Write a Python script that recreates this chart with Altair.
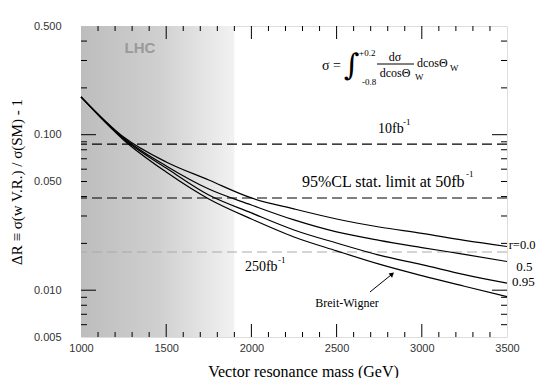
import altair as alt
import pandas as pd

# ---------------- data ----------------
mass = [1000, 1250, 1500, 1750, 2000, 2250, 2500, 2750, 3000, 3250, 3500]
r00 = [0.175, 0.0966, 0.0668, 0.0511, 0.0392, 0.0333, 0.0287, 0.0255, 0.0232, 0.0209, 0.0191]
r05 = [0.175, 0.0953, 0.0629, 0.0447, 0.0353, 0.0283, 0.0237, 0.0209, 0.0188, 0.0170, 0.0153]
r095 = [0.175, 0.0938, 0.0610, 0.0409, 0.0314, 0.0244, 0.0201, 0.0168, 0.0146, 0.0126, 0.0111]
breit_wigner = [0.175, 0.0925, 0.0575, 0.0386, 0.0287, 0.0220, 0.0179, 0.0147, 0.0124, 0.0106, 0.0091]

limit_10fb = 0.087
limit_50fb = 0.0392
limit_250fb = 0.0176
lhc_band = [1000, 1900]

x_domain = [1000, 3500]
y_domain = [0.005, 0.5]
x_labels = [1000, 1500, 2000, 2500, 3000, 3500]
x_major = [1500, 2000, 2500, 3000]
x_minor = [m for m in range(1100, 3500, 100) if m % 500]
y_labels = [0.005, 0.01, 0.05, 0.1, 0.5]
y_major = [0.01, 0.1]
y_minor = [0.006, 0.007, 0.008, 0.009, 0.02, 0.03, 0.04, 0.05,
           0.06, 0.07, 0.08, 0.09, 0.2, 0.3, 0.4]

W, H = 426, 311
SERIF = "Liberation Serif"

xs = alt.Scale(domain=x_domain, nice=False, zero=False)
ys = alt.Scale(type="log", domain=y_domain, nice=False)

x_axis = alt.Axis(values=x_labels, format="d", ticks=False, domain=False, grid=False,
                  labelPadding=5, labelFontSize=11, labelFont="Liberation Sans",
                  labelColor="#333333", labelFlush=False,
                  title="Vector resonance mass (GeV)", titleFont=SERIF,
                  titleFontSize=16, titleFontWeight="normal", titlePadding=10,
                  titleColor="black", titleX=222)
y_axis = alt.Axis(values=y_labels, format=".3f", ticks=False, domain=False, grid=False,
                  labelPadding=20, labelFontSize=11, labelFont="Liberation Sans",
                  labelColor="#333333", labelFlush=False,
                  title="ΔR ≡ σ(w V.R.) / σ(SM)  - 1", titleFont=SERIF,
                  titleFontSize=15, titleFontWeight="normal", titlePadding=9,
                  titleColor="black")

def X(field="mass"):
    return alt.X(f"{field}:Q", scale=xs, axis=x_axis, title="Vector resonance mass (GeV)")

def Y(field="value"):
    return alt.Y(f"{field}:Q", scale=ys, axis=y_axis, title="ΔR ≡ σ(w V.R.) / σ(SM)  - 1")

# ---------------- LHC shaded band ----------------
band = alt.Chart(pd.DataFrame({"mass": [lhc_band[0]], "mass2": [lhc_band[1]],
                               "value": [y_domain[0]], "value2": [y_domain[1]]})).mark_rect(
    color=alt.Gradient(gradient="linear",
                       stops=[alt.GradientStop(color="#bdbdbd", offset=0),
                              alt.GradientStop(color="#cfcfcf", offset=0.5),
                              alt.GradientStop(color="#f2f2f2", offset=1)],
                       x1=0, x2=1, y1=0, y2=0)
).encode(x=X(), x2="mass2:Q", y=Y(), y2="value2:Q")

# ---------------- dashed limits ----------------
limits = alt.Chart(pd.DataFrame({"value": [limit_10fb, limit_50fb]})).mark_rule(
    color="black", strokeWidth=1.1, strokeDash=[10, 5]).encode(y=Y())
limit250 = alt.Chart(pd.DataFrame({"value": [limit_250fb]})).mark_rule(
    color="#aaaaaa", strokeWidth=1.1, strokeDash=[10, 5]).encode(y=Y())

# ---------------- curves ----------------
rows = []
for name, vals in [("r=0.0", r00), ("0.5", r05), ("0.95", r095), ("BW", breit_wigner)]:
    for m, v in zip(mass, vals):
        rows.append({"mass": m, "value": v, "series": name})
curves_df = pd.DataFrame(rows)

curves = alt.Chart(curves_df).mark_line(color="black", strokeWidth=1.2, interpolate="monotone").encode(
    x=X(), y=Y(), detail="series:N")

# ---------------- inward ticks ----------------
def xticks(vals, length):
    d = pd.DataFrame({"mass": vals})
    bottom = alt.Chart(d).mark_rule(color="black", strokeWidth=1).encode(
        x=X(), y=alt.value(H), y2=alt.value(H - length))
    top = alt.Chart(d).mark_rule(color="black", strokeWidth=1).encode(
        x=X(), y=alt.value(0), y2=alt.value(length))
    return [bottom, top]

def yticks(vals, length):
    d = pd.DataFrame({"value": vals})
    left = alt.Chart(d).mark_rule(color="black", strokeWidth=1).encode(
        y=Y(), x=alt.value(0), x2=alt.value(length))
    right = alt.Chart(d).mark_rule(color="black", strokeWidth=1).encode(
        y=Y(), x=alt.value(W), x2=alt.value(W - length))
    return [left, right]

ticks = xticks(x_major, 13) + xticks(x_minor, 5) + yticks(y_major, 15) + yticks(y_minor, 6)

# ---------------- annotations ----------------
def text(label, m, v, size, align="left", baseline="middle", font=SERIF, color="black",
         weight="normal"):
    return alt.Chart(pd.DataFrame({"mass": [m], "value": [v], "label": [label]})).mark_text(
        align=align, baseline=baseline, font=font, fontSize=size, color=color,
        fontWeight=weight, clip=False
    ).encode(x=X(), y=Y(), text="label:N")

notes = [
    text("LHC", 1346, 0.361, 15, align="center", font="Liberation Sans", color="#9a9a9a",
         weight="bold"),
    # formula
    text("σ =", 2470, 0.2765, 14, align="center"),
    text("∫", 2590, 0.2765, 30, align="center", font="DejaVu Serif"),
    text("+0.2", 2632, 0.335, 9),
    text("-0.8", 2649, 0.218, 9),
    text("dσ", 2843, 0.316, 12, align="center"),
    text("dcosΘ", 2843, 0.2492, 12, align="center"),
    text("W", 2960, 0.235, 9),
    text("dcosΘ", 2972, 0.289, 12),
    text("W", 3166, 0.2685, 9),
    # limits
    text("10fb", 2743, 0.1088, 14),
    text("-1", 2890, 0.1208, 9),
    text("95%CL stat. limit at 50fb", 2297, 0.0496, 16),
    text("-1", 3260, 0.0559, 9),
    text("250fb", 1962, 0.0141, 14),
    text("-1", 2156, 0.01564, 9),
    text("Breit-Wigner", 2561, 0.00827, 12, align="center"),
    # curve labels
    text("r=0.0", 3510, 0.0195, 12.5),
    text("0.5", 3555, 0.0141, 13),
    text("0.95", 3530, 0.0113, 13),
]

frac = alt.Chart(pd.DataFrame({"mass": [2737], "mass2": [2954], "value": [0.2848]})).mark_rule(
    color="black", strokeWidth=1).encode(x=X(), x2="mass2:Q", y=Y())

arrow_line = alt.Chart(pd.DataFrame({"mass": [2696], "mass2": [2826],
                                     "value": [0.00974], "value2": [0.0127]})).mark_rule(
    color="black", strokeWidth=1).encode(x=X(), x2="mass2:Q", y=Y(), y2="value2:Q")
arrow_head = alt.Chart(pd.DataFrame({"mass": [2826], "value": [0.0127]})).mark_point(
    shape="triangle-up", filled=True, color="black", size=30, angle=50, opacity=1).encode(
    x=X(), y=Y())

chart = alt.layer(band, limits, limit250, curves, *ticks, frac, arrow_line, arrow_head, *notes).properties(
    width=W, height=H,
    padding={"left": 73, "top": 18, "right": 30, "bottom": 41},
    autosize=alt.AutoSizeParams(type="none"),
).configure_view(stroke="black", strokeWidth=1.5).configure(background="white")

chart.save("out.html", embed_options={"renderer": "svg", "actions": False})
